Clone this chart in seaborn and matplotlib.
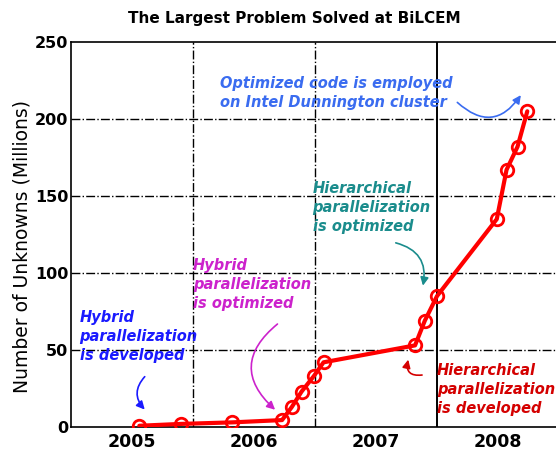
import matplotlib
matplotlib.use("Agg")
import matplotlib.pyplot as plt
import seaborn as sns

# Largest problem solved over time (decimal years, millions of unknowns)
years = [2005.56, 2005.90, 2006.32, 2006.73, 2006.81, 2006.89, 2006.99, 2007.07,
         2007.82, 2007.90, 2008.00, 2008.49, 2008.57, 2008.66, 2008.74]
unknowns = [0.8, 2, 3, 4.5, 13, 23, 33, 42, 53, 69, 85, 135, 167, 182, 205]

year_labels = ["2005", "2006", "2007", "2008"]
y_ticks = [0, 50, 100, 150, 200, 250]

sns.set_style("white")
plt.rcParams["font.family"] = ["DejaVu Sans"]
plt.rcParams["text.color"] = "black"
plt.rcParams["axes.labelcolor"] = "black"
plt.rcParams["xtick.color"] = "black"
plt.rcParams["ytick.color"] = "black"

fig = plt.figure(figsize=(5.56, 4.5), dpi=100)
ax = fig.add_axes([71 / 556, 23 / 450, 488 / 556, 385 / 450])

# grid lines (year boundaries and every 50M)
for yv in [50, 100, 150, 200]:
    ax.axhline(yv, color="black", lw=1.0, ls="-.", zorder=1)
for xv in [2006, 2007]:
    ax.axvline(xv, color="black", lw=1.0, ls="-.", zorder=1)
ax.axvline(2008, color="black", lw=1.4, ls="-", zorder=1)

sns.lineplot(x=years, y=unknowns, ax=ax, color="#ff0000", lw=3,
             marker="o", markersize=9, markerfacecolor="none",
             markeredgecolor="#ff0000", markeredgewidth=2, zorder=3)

ax.set_xlim(2005, 2009)
ax.set_ylim(0, 250)
ax.set_xticks([2005.5, 2006.5, 2007.5, 2008.5])
ax.set_xticklabels(year_labels, fontweight="bold", fontsize=12.5)
ax.set_yticks(y_ticks)
ax.set_yticklabels([str(v) for v in y_ticks], fontweight="bold", fontsize=11.5)
ax.tick_params(axis="x", length=0, pad=4)
ax.tick_params(axis="y", direction="in", length=4, pad=2)
for s in ax.spines.values():
    s.set_color("black")
    s.set_linewidth(1.2)

ax.set_ylabel("Number of Unknowns (Millions)", fontsize=13.5, labelpad=2)
ax.yaxis.set_label_coords(-0.08, 0.47)
fig.text(0.53, 1 - 18 / 450, "The Largest Problem Solved at BiLCEM",
         ha="center", va="center", fontsize=11, fontweight="bold")

notes = [
    ("Hybrid\nparallelization\nis developed", "#1a1aff", (2005.07, 76),
     (2005.62, 10), (2005.62, 34), 0.5),
    ("Hybrid\nparallelization\nis optimized", "#cc22cc", (2006.0, 110),
     (2006.69, 10), (2006.71, 68), 0.6),
    ("Hierarchical\nparallelization\nis optimized", "#1a8c8c", (2006.98, 160),
     (2007.88, 90), (2007.64, 120), -0.5),
    ("Optimized code is employed\non Intel Dunnington cluster", "#3a6cf0", (2006.22, 228),
     (2008.70, 217), (2008.15, 212), 0.6),
    ("Hierarchical\nparallelization\nis developed", "#d40000", (2008.0, 41.5),
     (2007.77, 45.5), (2007.90, 34), -0.8),
]
for txt, col, pos, head, tail, rad in notes:
    ax.text(pos[0], pos[1], txt, color=col, fontsize=10.5, fontweight="bold",
            fontstyle="italic", ha="left", va="top", linespacing=1.35, zorder=4)
    ax.annotate("", xy=head, xytext=tail,
                arrowprops=dict(arrowstyle="-|>", color=col, lw=1.2,
                                connectionstyle=f"arc3,rad={rad}",
                                mutation_scale=12),
                zorder=4)

fig.savefig("out.png", dpi=100)
